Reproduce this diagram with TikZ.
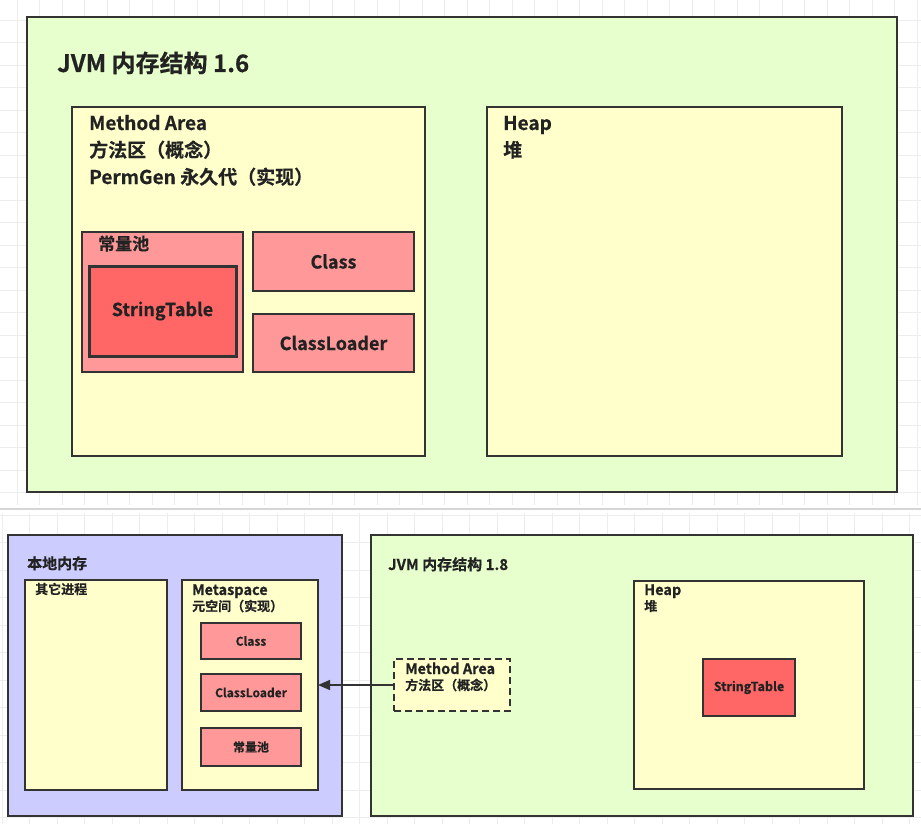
\documentclass[tikz,border=0pt]{standalone}
\usepackage{fontspec}
\setmainfont{Noto Sans CJK SC Bold}[FakeBold=0.4]
\usetikzlibrary{arrows.meta,fit}
\definecolor{gfill}{HTML}{E6FFCC}
\definecolor{yfill}{HTML}{FFFFCC}
\definecolor{pfill}{HTML}{FF9999}
\definecolor{rfill}{HTML}{FF6666}
\definecolor{vfill}{HTML}{CCCCFF}
\definecolor{bd}{HTML}{333333}
\definecolor{txt}{HTML}{222222}
\newcommand{\fs}[1]{\fontsize{#1}{#1}\selectfont}
\begin{document}
\begin{tikzpicture}[x=1pt,y=-1pt,
  box/.style={draw=bd, line width=2.4pt, inner sep=0pt, outer sep=0pt},
  sbox/.style={draw=bd, line width=2pt, inner sep=0pt, outer sep=0pt},
  lbl/.style={anchor=base west, inner sep=0pt, text=txt},
  ctr/.style={anchor=center, inner sep=0pt, text=txt},
  gridline/.style={draw=black!7, line width=0.8pt}]
\useasboundingbox (0,0) rectangle (921,824);
\fill[white] (0,0) rectangle (921,824);
% background grid (top)
\foreach \i in {0,...,40} {\draw[gridline] (17+22.5*\i,0) -- (17+22.5*\i,505);}
\foreach \j in {0,...,22} {\draw[gridline] (0,20+22.5*\j) -- (921,20+22.5*\j);}
% background grid (bottom)
\foreach \i in {0,...,33} {\draw[gridline] (2+27.5*\i,513) -- (2+27.5*\i,824);}
\foreach \j in {0,...,11} {\draw[gridline] (0,515+27.5*\j) -- (921,515+27.5*\j);}
\fill[white] (0,505) rectangle (921,513);
\draw[draw=black!16, line width=1.2pt] (0,509) -- (921,509);

% ===== top: JVM 1.6 =====
\node[box, fill=gfill, fit={(27,17) (897,492)}] (g1) {};
\node[lbl] (t1) at (57,72) {\fs{24}JVM 内存结构 1.6};
\node[box, fill=yfill, fit={(72,107) (425,456)}] (ma1) {};
\node[lbl] (ma1a) at (89,130) {\fs{19}Method Area};
\node[lbl] (ma1b) at (89,157) {\fs{19}方法区（概念）};
\node[lbl] (ma1c) at (89,184) {\fs{19}PermGen 永久代（实现）};
\node[box, fill=pfill, fit={(82,232) (243,372)}] (pool1) {};
\node[lbl] (pool1l) at (98,250) {\fs{17}常量池};
\node[box, fill=rfill, line width=3pt, fit={(89,266) (236,356)}] (st1) {};
\node[ctr] (st1t) at (st1.center) {\fs{18}StringTable};
\node[box, fill=pfill, fit={(253,232) (414,291)}] (cls1) {};
\node[ctr] (cls1t) at (cls1.center) {\fs{18}Class};
\node[box, fill=pfill, fit={(253,314) (414,372)}] (cl1) {};
\node[ctr] (cl1t) at (cl1.center) {\fs{18}ClassLoader};
\node[box, fill=yfill, fit={(487,107) (842,456)}] (heap1) {};
\node[lbl] (heap1a) at (503,130) {\fs{19}Heap};
\node[lbl] (heap1b) at (503,157) {\fs{19}堆};

% ===== bottom left: native memory =====
\node[sbox, fill=vfill, fit={(8,535) (342,816)}] (nat) {};
\node[lbl] (natl) at (27,569) {\fs{15}本地内存};
\node[sbox, fill=yfill, fit={(25,580) (167,790)}] (oth) {};
\node[lbl] (othl) at (35,594) {\fs{13}其它进程};
\node[sbox, fill=yfill, fit={(182,580) (318,790)}] (meta) {};
\node[lbl] (metaa) at (192,595) {\fs{14.5}Metaspace};
\node[lbl] (metab) at (192,611) {\fs{13}元空间（实现）};
\node[sbox, fill=pfill, fit={(201,623) (301,659)}] (cls2) {};
\node[ctr] (cls2t) at (cls2.center) {\fs{12}Class};
\node[sbox, fill=pfill, fit={(201,674) (301,711)}] (cl2) {};
\node[ctr] (cl2t) at (cl2.center) {\fs{12}ClassLoader};
\node[sbox, fill=pfill, fit={(201,728) (301,766)}] (pool2) {};
\node[ctr] (pool2t) at (pool2.center) {\fs{12}常量池};

% ===== bottom right: JVM 1.8 =====
\node[sbox, fill=gfill, fit={(371,535) (913,816)}] (g2) {};
\node[lbl] (t2) at (388,570) {\fs{15}JVM 内存结构 1.8};
\node[sbox, fill=yfill, dash pattern=on 7pt off 4pt, fit={(394,659) (510,711)}] (ma2) {};
\node[lbl] (ma2a) at (405,674) {\fs{14.5}Method Area};
\node[lbl] (ma2b) at (405,690) {\fs{13}方法区（概念）};
\node[sbox, fill=yfill, fit={(634,581) (864,789)}] (heap2) {};
\node[lbl] (heap2a) at (644,595) {\fs{14.5}Heap};
\node[lbl] (heap2b) at (644,611) {\fs{13}堆};
\node[sbox, fill=rfill, fit={(703,659) (795,716)}] (st2) {};
\node[ctr] (st2t) at (st2.center) {\fs{12.5}StringTable};

\draw[draw=bd, line width=1.6pt, -{Triangle[length=12pt,width=10pt]}] (ma2.west) -- (meta.east);
\end{tikzpicture}
\end{document}
